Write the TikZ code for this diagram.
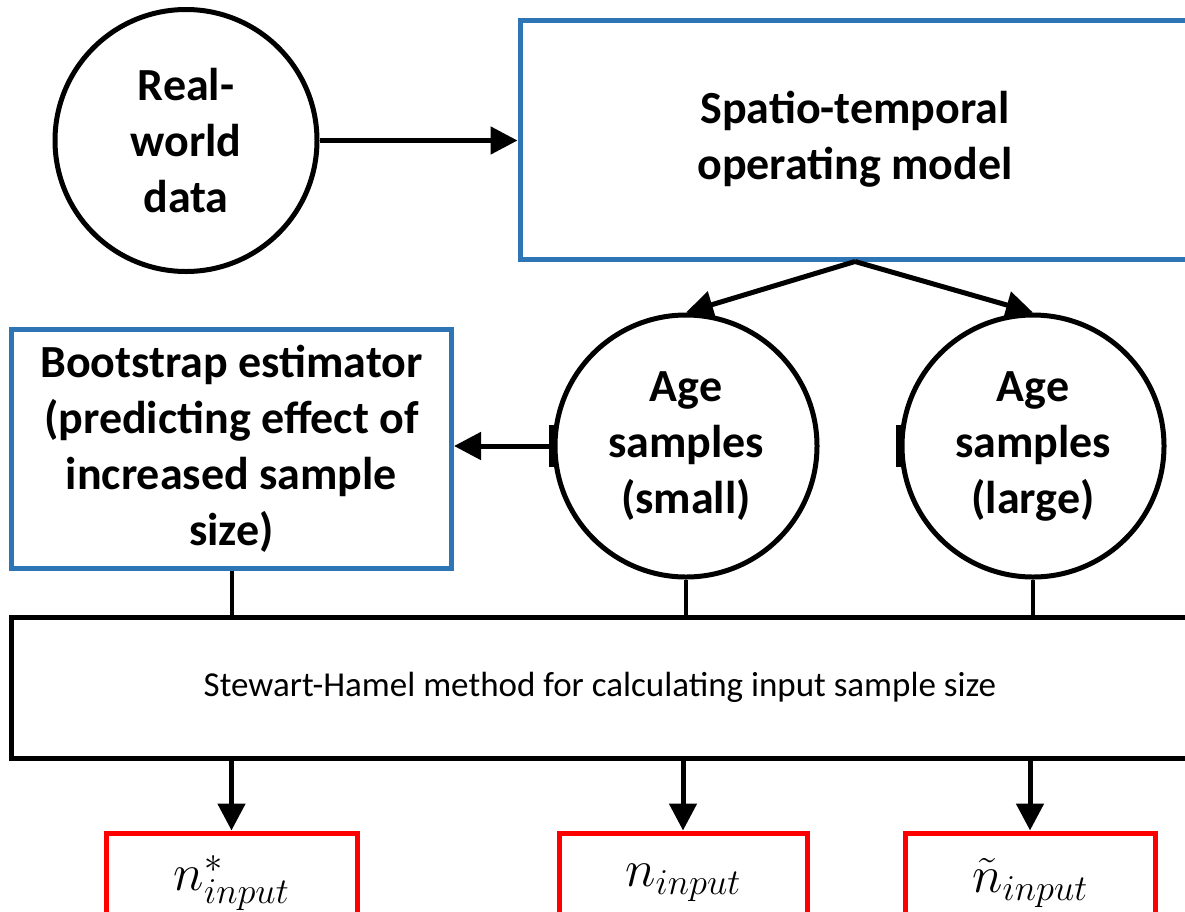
\RequirePackage{fix-cm}
\documentclass[tikz,border=0pt]{standalone}
\usepackage{fontspec}
\setmainfont{Carlito}
\usetikzlibrary{arrows.meta,calc}
\definecolor{boxblue}{HTML}{2E75B6}
\definecolor{boxred}{HTML}{FF0000}
\begin{document}
\begin{tikzpicture}[x=1pt,y=-1pt,
  circ/.style={draw=black,line width=5pt,circle,minimum size=262pt,inner sep=0pt,align=center,font=\fontsize{46}{56}\selectfont\bfseries},
  bluebox/.style={draw=boxblue,line width=5pt,rectangle,inner sep=0pt,align=center,font=\fontsize{46}{56}\selectfont\bfseries},
  blackbox/.style={draw=black,line width=5pt,rectangle,inner sep=0pt,align=center,font=\fontsize{35}{42}\selectfont},
  redbox/.style={draw=boxred,line width=5pt,rectangle,inner sep=0pt,minimum height=100pt,font=\fontsize{52}{56}\selectfont},
  arr/.style={line width=5pt,-{Triangle[length=27pt,width=27pt]}},
  conn/.style={line width=4pt}
]
\clip (0,0) rectangle (1185,911);
\fill[white] (0,0) rectangle (1185,911);

\node[circ] (rw) at (186,140.5) {Real-\\world\\data};
\node[bluebox,minimum width=670pt,minimum height=239pt] (stm) at (855,139.5) {Spatio-temporal\\operating model};
\node[circ] (small) at (686,446) {Age\\samples\\(small)};
\node[circ] (large) at (1033,446) {Age\\samples\\(large)};
\node[bluebox,minimum width=440pt,minimum height=239pt] (boot) at (231.5,448.5) {Bootstrap estimator\\(predicting effect of\\increased sample\\size)};
\node[blackbox,minimum width=1178pt,minimum height=141pt] (sh) at (600,687.5) {Stewart-Hamel method for calculating input sample size};
\node[redbox,minimum width=251pt] (r1) at (231.5,883) {$n^{*}_{input}$};
\node[redbox,minimum width=248pt] (r2) at (683,883) {$n_{input}$};
\node[redbox,minimum width=250pt] (r3) at (1030,883) {$\tilde{n}_{input}$};

\draw[arr] (rw.east) -- (rw.east -| stm.west);
\draw[arr] (stm.south) -- (small.north);
\draw[arr] (stm.south) -- (large.north);
\draw[arr] (small.west) -- (small.west -| boot.east);
\draw[line width=6.5pt] ($(small.west)+(0,-21)$) -- ($(small.west)+(0,21)$);
\draw[line width=6.5pt] ($(large.west)+(0,-21)$) -- ($(large.west)+(0,21)$);
\draw[conn] (boot.south) -- (boot.south |- sh.north);
\draw[conn] (small.south) -- (small.south |- sh.north);
\draw[conn] (large.south) -- (large.south |- sh.north);
\draw[arr] (r1.north |- sh.south) -- (r1.north);
\draw[arr] (r2.north |- sh.south) -- (r2.north);
\draw[arr] (r3.north |- sh.south) -- (r3.north);
\end{tikzpicture}
\end{document}
